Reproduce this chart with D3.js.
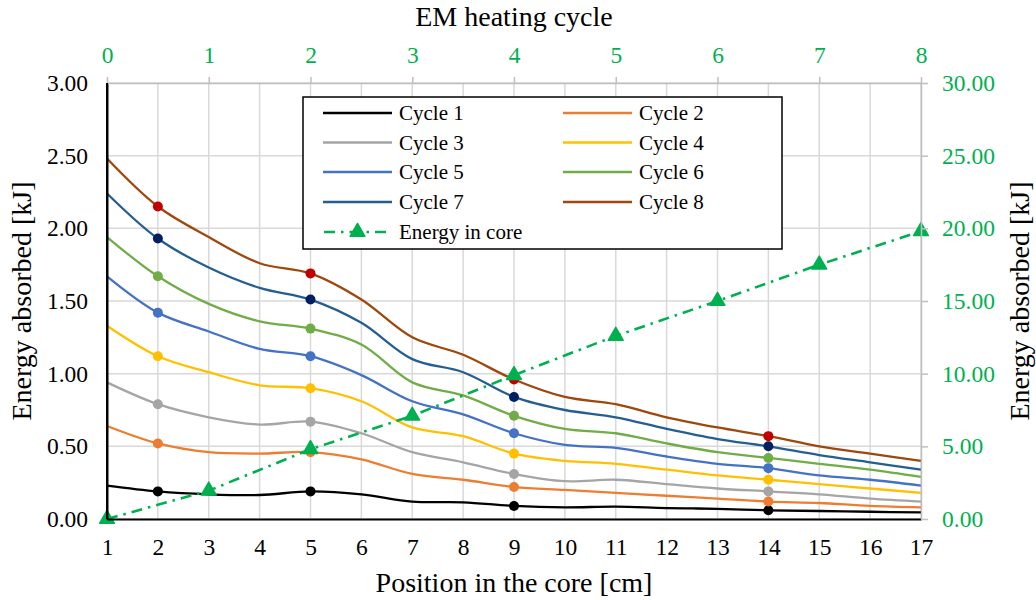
<!DOCTYPE html>
<html>
<head>
<meta charset="utf-8">
<script src="https://cdn.jsdelivr.net/npm/d3@7/dist/d3.min.js"></script>
<style>
  html, body { margin: 0; padding: 0; background: #fff; }
  svg, svg text { font-family: "Liberation Serif", "Times New Roman", serif !important; }
  svg { display: block; }
</style>
</head>
<body>
<svg id="chart" width="1036" height="600"></svg>
<script>
// Position along the core [cm]
const positions = [1, 2, 3, 4, 5, 6, 7, 8, 9, 10, 11, 12, 13, 14, 15, 16, 17];

// Energy absorbed per position for each EM heating cycle [kJ]
const cycle1 = [0.23, 0.19, 0.17, 0.165, 0.19, 0.17, 0.12, 0.115, 0.09, 0.08, 0.085, 0.075, 0.07, 0.06, 0.055, 0.05, 0.045];
const cycle2 = [0.64, 0.52, 0.46, 0.45, 0.46, 0.41, 0.31, 0.27, 0.22, 0.20, 0.18, 0.16, 0.14, 0.12, 0.11, 0.09, 0.08];
const cycle3 = [0.94, 0.79, 0.70, 0.65, 0.67, 0.59, 0.46, 0.39, 0.31, 0.26, 0.27, 0.24, 0.21, 0.19, 0.17, 0.14, 0.12];
const cycle4 = [1.33, 1.12, 1.01, 0.92, 0.90, 0.81, 0.63, 0.57, 0.45, 0.40, 0.38, 0.34, 0.30, 0.27, 0.24, 0.21, 0.18];
const cycle5 = [1.67, 1.42, 1.29, 1.17, 1.12, 0.99, 0.81, 0.72, 0.59, 0.51, 0.49, 0.43, 0.38, 0.35, 0.30, 0.27, 0.23];
const cycle6 = [1.94, 1.67, 1.48, 1.36, 1.31, 1.20, 0.94, 0.85, 0.71, 0.62, 0.59, 0.52, 0.46, 0.42, 0.38, 0.34, 0.29];
const cycle7 = [2.24, 1.93, 1.73, 1.59, 1.51, 1.35, 1.10, 1.01, 0.84, 0.75, 0.70, 0.62, 0.55, 0.50, 0.44, 0.39, 0.34];
const cycle8 = [2.48, 2.15, 1.94, 1.76, 1.69, 1.51, 1.25, 1.13, 0.96, 0.84, 0.79, 0.70, 0.63, 0.57, 0.50, 0.45, 0.40];

// Positions that carry a highlighted marker
const markedPositions = [2, 5, 9, 14];

// Cumulative energy in the core after each heating cycle [kJ]
const heatingCycles = [0, 1, 2, 3, 4, 5, 6, 7, 8];
const energyInCore = [0, 1.95, 4.8, 7.1, 9.9, 12.6, 15.0, 17.5, 19.8];

// Axis tick values
const leftTicks = [0, 0.5, 1.0, 1.5, 2.0, 2.5, 3.0];
const rightTicks = [0, 5, 10, 15, 20, 25, 30];

const seriesNames = ["Cycle 1", "Cycle 2", "Cycle 3", "Cycle 4", "Cycle 5", "Cycle 6", "Cycle 7", "Cycle 8"];
const seriesValues = [cycle1, cycle2, cycle3, cycle4, cycle5, cycle6, cycle7, cycle8];
const lineColors = ["#000000", "#ED7D31", "#A5A5A5", "#FFC000", "#4472C4", "#70AD47", "#255E91", "#9E480E"];
const markerColors = ["#000000", "#ED7D31", "#A5A5A5", "#FFC000", "#4472C4", "#70AD47", "#002060", "#C00000"];
const energyColor = "#00B050";

const serif = "'Liberation Serif', 'Times New Roman', serif";
const plot = { left: 107, right: 921, top: 83, bottom: 519 };

const svg = d3.select("#chart");

const x = d3.scaleLinear().domain([1, 17]).range([plot.left, plot.right]);
const xTop = d3.scaleLinear().domain([0, 8]).range([plot.left, plot.right]);
const y = d3.scaleLinear().domain([0, 3]).range([plot.bottom, plot.top]);
const yRight = d3.scaleLinear().domain([0, 30]).range([plot.bottom, plot.top]);

// Gridlines
const grid = svg.append("g").attr("stroke", "#d9d9d9").attr("stroke-width", 1.5);
grid.selectAll("line.h").data(leftTicks).join("line")
  .attr("x1", plot.left).attr("x2", plot.right)
  .attr("y1", d => y(d)).attr("y2", d => y(d));
grid.selectAll("line.v").data(positions).join("line")
  .attr("x1", d => x(d)).attr("x2", d => x(d))
  .attr("y1", plot.top).attr("y2", plot.bottom);

// Cycle curves
const line = d3.line()
  .x((d, i) => x(positions[i]))
  .y(d => y(d))
  .curve(d3.curveCatmullRom.alpha(0.5));

const series = seriesValues.map((vals, k) => ({ name: seriesNames[k], vals, k }));

svg.append("g").selectAll("path").data(series).join("path")
  .attr("fill", "none")
  .attr("stroke", d => lineColors[d.k])
  .attr("stroke-width", 2.3)
  .attr("d", d => line(d.vals));

// Highlighted markers
svg.append("g").selectAll("g").data(series).join("g")
  .attr("fill", d => markerColors[d.k])
  .selectAll("circle")
  .data(d => markedPositions.map(p => ({ p, v: d.vals[positions.indexOf(p)] })))
  .join("circle")
  .attr("cx", d => x(d.p))
  .attr("cy", d => y(d.v))
  .attr("r", 5);

// Energy in core (secondary axes)
const energyLine = d3.line()
  .x((d, i) => xTop(heatingCycles[i]))
  .y(d => yRight(d));

svg.append("path")
  .attr("fill", "none")
  .attr("stroke", energyColor)
  .attr("stroke-width", 2.6)
  .attr("stroke-dasharray", "11,6,2.5,6")
  .attr("d", energyLine(energyInCore));

const tri = d3.symbol().type(d3.symbolTriangle).size(95);
svg.append("g").selectAll("path").data(energyInCore).join("path")
  .attr("fill", energyColor)
  .attr("stroke", energyColor)
  .attr("stroke-width", 1.5)
  .attr("stroke-linejoin", "round")
  .attr("transform", (d, i) => `translate(${xTop(heatingCycles[i])},${yRight(d)})`)
  .attr("d", tri);

// Axes
const fmt2 = d3.format(".2f");
function styleLabels(g, color) {
  g.attr("font-family", null).style("font-family", serif);
  g.selectAll("text").attr("font-size", 23.5).attr("fill", color).style("font-family", serif);
}

const leftAxis = svg.append("g")
  .attr("transform", `translate(${plot.left},0)`)
  .call(d3.axisLeft(y).tickValues(leftTicks).tickFormat(fmt2).tickSize(0).tickPadding(19));
leftAxis.select(".domain").attr("stroke", "#000").attr("stroke-width", 2);
styleLabels(leftAxis, "#000");

const bottomAxis = svg.append("g")
  .attr("transform", `translate(0,${plot.bottom})`)
  .call(d3.axisBottom(x).tickValues(positions).tickFormat(d3.format("d")).tickSize(0).tickSizeOuter(0).tickPadding(19));
bottomAxis.select(".domain").attr("stroke", "#000").attr("stroke-width", 2);
styleLabels(bottomAxis, "#000");

const topAxis = svg.append("g")
  .attr("transform", `translate(0,${plot.top})`)
  .call(d3.axisTop(xTop).tickValues(heatingCycles).tickFormat(d3.format("d")).tickSize(6).tickSizeOuter(0).tickPadding(14));
topAxis.select(".domain").attr("stroke", "#bfbfbf").attr("stroke-width", 1.5);
topAxis.selectAll(".tick line").attr("stroke", "#bfbfbf").attr("stroke-width", 1.5);
styleLabels(topAxis, energyColor);

const rightAxis = svg.append("g")
  .attr("transform", `translate(${plot.right},0)`)
  .call(d3.axisRight(yRight).tickValues(rightTicks).tickFormat(fmt2).tickSize(7).tickSizeOuter(0).tickPadding(14));
rightAxis.select(".domain").attr("stroke", "#bfbfbf").attr("stroke-width", 1.5);
rightAxis.selectAll(".tick line").attr("stroke", "#bfbfbf").attr("stroke-width", 1.5);
styleLabels(rightAxis, energyColor);

// Left axis line kept above the curves' start
svg.append("line")
  .attr("x1", plot.left).attr("x2", plot.left)
  .attr("y1", plot.top).attr("y2", plot.bottom)
  .attr("stroke", "#000").attr("stroke-width", 2);

// Axis titles
const titleSize = 28;
svg.append("text").attr("x", (plot.left + plot.right) / 2).attr("y", 592)
  .attr("text-anchor", "middle").attr("font-size", titleSize)
  .text("Position in the core [cm]");
svg.append("text").attr("x", (plot.left + plot.right) / 2).attr("y", 26)
  .attr("text-anchor", "middle").attr("font-size", titleSize)
  .text("EM heating cycle");
svg.append("text")
  .attr("transform", `translate(31,${(plot.top + plot.bottom) / 2}) rotate(-90)`)
  .attr("text-anchor", "middle").attr("font-size", titleSize)
  .text("Energy absorbed [kJ]");
svg.append("text")
  .attr("transform", `translate(1029,${(plot.top + plot.bottom) / 2}) rotate(-90)`)
  .attr("text-anchor", "middle").attr("font-size", titleSize)
  .text("Energy absorbed [kJ]");

// Legend
const legend = svg.append("g");
legend.append("rect")
  .attr("x", 303).attr("y", 97).attr("width", 479).attr("height", 152)
  .attr("fill", "#fff").attr("stroke", "#000").attr("stroke-width", 1.5);

const rowY = [113, 142.5, 172, 202, 232];
const colX = [323, 563];
const legendItems = series.map(s => ({ name: s.name, color: lineColors[s.k], col: s.k % 2, row: Math.floor(s.k / 2) }));

const li = legend.selectAll("g.item").data(legendItems).join("g")
  .attr("transform", d => `translate(${colX[d.col]},${rowY[d.row]})`);
li.append("line").attr("x1", 0).attr("x2", 69).attr("y1", 0).attr("y2", 0)
  .attr("stroke", d => d.color).attr("stroke-width", 2.3);
li.append("text").attr("x", 76).attr("y", 7).attr("font-size", 21).text(d => d.name);

const le = legend.append("g").attr("transform", `translate(${colX[0]},${rowY[4]})`);
le.append("line").attr("x1", 0).attr("x2", 69).attr("y1", 0).attr("y2", 0)
  .attr("stroke", energyColor).attr("stroke-width", 2.6)
  .attr("stroke-dasharray", "11,6,2.5,6").attr("stroke-dashoffset", -1);
le.append("path").attr("transform", "translate(34.5,0)").attr("d", tri)
  .attr("fill", energyColor).attr("stroke", energyColor).attr("stroke-width", 1.5)
  .attr("stroke-linejoin", "round");
le.append("text").attr("x", 76).attr("y", 7).attr("font-size", 21).text("Energy in core");
</script>
</body>
</html>
